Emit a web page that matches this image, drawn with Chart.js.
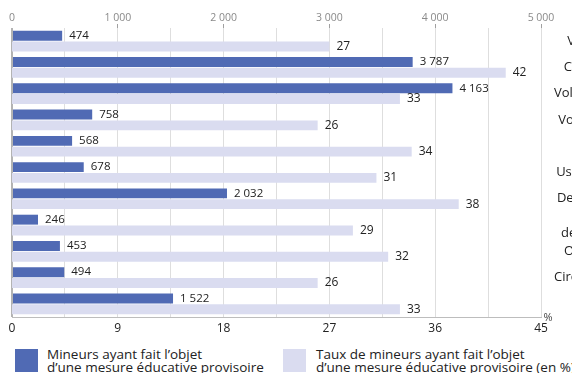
<!DOCTYPE html>
<html lang="fr">
<head>
<meta charset="utf-8">
<script src="https://cdn.jsdelivr.net/npm/chart.js@4/dist/chart.umd.min.js"></script>
<style>
  html, body { margin: 0; padding: 0; background: #fff; }
  #wrap { position: relative; width: 572px; height: 373px; overflow: hidden; }
  #chart { position: absolute; left: 0; top: 0; }
  .legend { position: absolute; top: 347px; left: 0; width: 572px; height: 26px;
            font-family: 'Open Sans', sans-serif; font-size: 13.5px; line-height: 13px; color: #222; }
  .sw { position: absolute; top: 2px; width: 23px; height: 23px; }
  .lt { position: absolute; top: 1px; white-space: nowrap; }
</style>
</head>
<body>
<div id="wrap">
  <canvas id="chart" width="701" height="340"></canvas>
  <div class="legend">
    <div class="sw" id="sw0" style="left:15px"></div>
    <div class="lt" id="lt0" style="left:47px"></div>
    <div class="sw" id="sw1" style="left:283px"></div>
    <div class="lt" id="lt1" style="left:316px"></div>
  </div>
</div>
<script>
// Nature de l'infraction
const categories = [
  'Vols avec arme',
  'Coups et injures',
  'Vols avec effraction',
  'Vols sans violence',
  'Incendies',
  'Usage de cannabis',
  'Destruction légère',
  ['Recel', 'de marchandises'],
  'Outrage à agent',
  'Circulation routière',
  'Autres'
];

// Nombre de mineurs ayant fait l'objet d'une mesure éducative provisoire
const mineurs = [474, 3787, 4163, 758, 568, 678, 2032, 246, 453, 494, 1522];

// Taux correspondant (en %)
const taux = [27, 42, 33, 26, 34, 31, 38, 29, 32, 26, 33];

// Graduations des deux axes
const countTicks = [0, 1000, 2000, 3000, 4000, 5000];
const rateTicks = [0, 9, 18, 27, 36, 45];

const seriesNames = [
  ["Mineurs ayant fait l’objet", "d’une mesure éducative provisoire"],
  ["Taux de mineurs ayant fait l’objet", "d’une mesure éducative provisoire (en %)"]
];

const DARK = '#506ab4';
const LIGHT = '#dadcf0';
const FONT = "'Open Sans', sans-serif";

Chart.defaults.font.family = FONT;

const fmt = v => String(v).replace(/\B(?=(\d{3})+(?!\d))/g, ' ');

// Étiquettes de valeur au bout de chaque barre
const valueLabels = {
  id: 'valueLabels',
  afterDatasetsDraw(chart) {
    const ctx = chart.ctx;
    chart.data.datasets.forEach((ds, i) => {
      const meta = chart.getDatasetMeta(i);
      ctx.save();
      ctx.font = ds.valueFont + ' ' + FONT;
      ctx.fillStyle = '#222';
      ctx.textAlign = 'left';
      ctx.textBaseline = 'middle';
      meta.data.forEach((bar, j) => {
        ctx.fillText(fmt(ds.data[j]), bar.x + 7, bar.y);
      });
      ctx.restore();
    });
  }
};

// Unité de l'axe du bas
const unitLabel = {
  id: 'unitLabel',
  afterDraw(chart) {
    const s = chart.scales.x;
    const ctx = chart.ctx;
    ctx.save();
    ctx.font = '11px ' + FONT;
    ctx.fillStyle = '#444';
    ctx.textAlign = 'center';
    ctx.textBaseline = 'middle';
    ctx.fillText('%', s.right + 7, s.top + 1);
    ctx.restore();
  }
};

new Chart(document.getElementById('chart'), {
  type: 'bar',
  data: {
    labels: categories,
    datasets: [
      {
        label: seriesNames[0].join(' '),
        data: mineurs,
        xAxisID: 'x2',
        backgroundColor: DARK,
        valueFont: '11.5px',
        categoryPercentage: 0.82,
        barPercentage: 0.92
      },
      {
        label: seriesNames[1].join(' '),
        data: taux,
        xAxisID: 'x',
        backgroundColor: LIGHT,
        valueFont: '12px',
        categoryPercentage: 0.82,
        barPercentage: 0.92
      }
    ]
  },
  options: {
    indexAxis: 'y',
    responsive: false,
    animation: false,
    layout: { padding: { left: 12, right: 0, top: 0, bottom: 0 } },
    plugins: { legend: { display: false }, tooltip: { enabled: false } },
    scales: {
      x2: {
        position: 'top',
        min: countTicks[0],
        max: countTicks[countTicks.length - 1],
        ticks: {
          stepSize: (countTicks[1] - countTicks[0]) / 2,
          autoSkip: false,
          maxRotation: 0,
          padding: 0,
          color: '#8a8a8a',
          font: { size: 10.5 },
          callback: v => countTicks.includes(v) ? fmt(v) : ''
        },
        grid: {
          drawOnChartArea: true,
          drawTicks: true,
          tickLength: 4,
          color: c => c.tick && c.tick.value === 0 ? '#b3b3b3' : '#dedede',
          lineWidth: c => c.tick && c.tick.value === 0 ? 2 : 1,
          tickColor: c => c.tick && countTicks.includes(c.tick.value) && c.tick.value !== 0 ? '#a0a0a0' : 'rgba(0,0,0,0)'
        },
        border: { display: false },
        afterFit: s => { s.height = 28; }
      },
      x: {
        position: 'bottom',
        min: rateTicks[0],
        max: rateTicks[rateTicks.length - 1],
        ticks: {
          stepSize: rateTicks[1] - rateTicks[0],
          autoSkip: false,
          maxRotation: 0,
          padding: 4,
          color: '#222',
          font: { size: 12 }
        },
        grid: { display: false, drawTicks: false },
        border: { display: true, color: '#bdbdbd', width: 1 },
        afterFit: s => { s.height = 23; }
      },
      y: {
        position: 'right',
        ticks: {
          crossAlign: 'center',
          padding: 13,
          color: '#222',
          font: { size: 13 },
          autoSkip: false
        },
        grid: { display: false, drawTicks: false },
        border: { display: false },
        afterFit: s => { s.width = 160; }
      }
    }
  },
  plugins: [valueLabels, unitLabel]
});

// Légende
[DARK, LIGHT].forEach((c, i) => {
  document.getElementById('sw' + i).style.background = c;
  document.getElementById('lt' + i).innerHTML = seriesNames[i].join('<br>');
});
</script>
</body>
</html>
